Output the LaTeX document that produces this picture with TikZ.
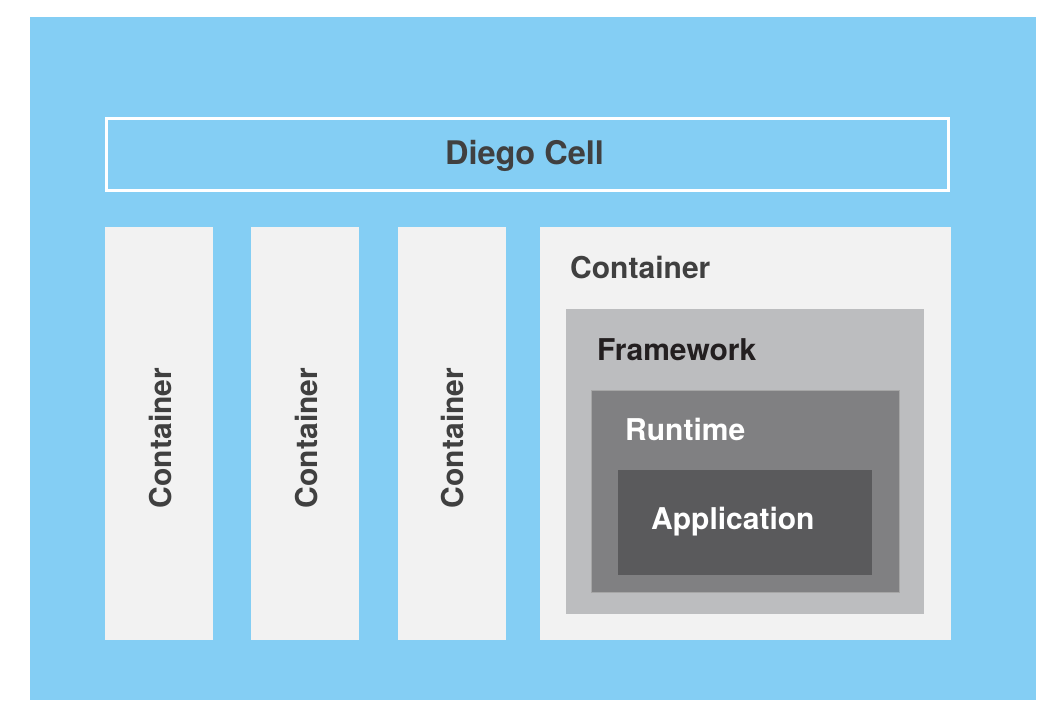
\documentclass[tikz,border=0pt]{standalone}
\usepackage{fontspec}
\setmainfont{TeX Gyre Heros}
\definecolor{cellblue}{HTML}{84CEF4}
\definecolor{boxgrey}{HTML}{F2F2F2}
\definecolor{fwgrey}{HTML}{BCBDBF}
\definecolor{rtgrey}{HTML}{808082}
\definecolor{appgrey}{HTML}{5A5A5C}
\definecolor{txtdark}{HTML}{404040}
\definecolor{txtblack}{HTML}{231F20}
\tikzset{
  panel/.style={inner sep=0pt, outer sep=0pt},
  lbl/.style={font=\fontsize{30}{30}\selectfont\bfseries, inner sep=0pt, anchor=base west},
  vlbl/.style={font=\fontsize{30}{30}\selectfont\bfseries, text=txtdark, inner sep=0pt, rotate=90}
}
\begin{document}
\begin{tikzpicture}[x=1pt,y=-1pt]
\useasboundingbox (0,0) rectangle (1063,718);
\fill[white] (0,0) rectangle (1063,718);
\fill[cellblue] (30,17) rectangle (1036,700);
% Diego cell bar
\draw[white, line width=3pt] (106.5,118.5) rectangle (948.5,190.5);
\node[font=\fontsize{32.5}{32.5}\selectfont\bfseries, text=txtdark] (diego) at (524.5,156) {Diego Cell};
% small containers
\fill[boxgrey] (105,227) rectangle (213,640);
\fill[boxgrey] (251,227) rectangle (359,640);
\fill[boxgrey] (398,227) rectangle (506,640);
\node[vlbl] (c1) at (161,438) {Container};
\node[vlbl] (c2) at (307,438) {Container};
\node[vlbl] (c3) at (453,438) {Container};
% big container
\fill[boxgrey] (540,227) rectangle (951,640);
\node[lbl, text=txtdark] (c4) at (570,278) {Container};
\fill[fwgrey] (566,309) rectangle (924,614);
\node[lbl, text=txtblack] (fw) at (597,360) {Framework};
\fill[rtgrey] (591,390) rectangle (899,592);
\draw[gray!70, line width=0.8pt] (591,390) rectangle (899,592);
\node[lbl, text=white] (rt) at (625,440) {Runtime};
\fill[appgrey] (618,470) rectangle (872,575);
\node[lbl, text=white] (app) at (651,529) {Application};
\end{tikzpicture}
\end{document}
